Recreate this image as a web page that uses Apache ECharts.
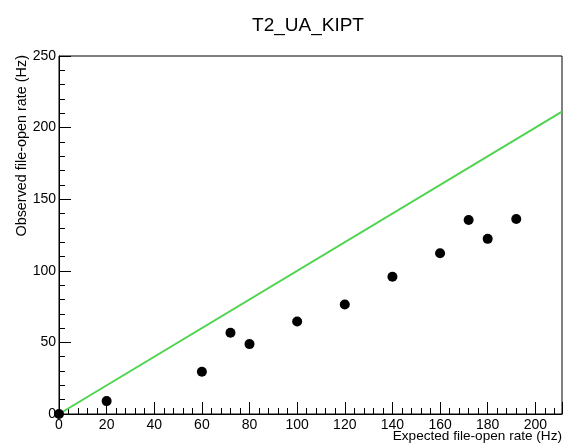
<!DOCTYPE html>
<html>
<head>
<meta charset="utf-8">
<script src="https://cdn.jsdelivr.net/npm/echarts@6/dist/echarts.min.js"></script>
<style>
html,body{margin:0;padding:0;background:#fff;}
#c{width:572px;height:447px;}
</style>
</head>
<body>
<div id="c"></div>
<script>
const titleText = "T2_UA_KIPT";
const xTitle = "Expected file-open rate (Hz)";
const yTitle = "Observed file-open rate (Hz)";
const expected = [0, 20, 60, 72, 80, 100, 120, 140, 160, 172, 180, 192];
const observed = [0, 9, 29.5, 56.8, 48.8, 64.6, 76.5, 95.8, 112.3, 135.5, 122.3, 136.2];
const refX = [0, 211.2];
const refY = [0, 211.2];
const xMin = 0, xMax = 211.2, xStep = 20;
const yMin = 0, yMax = 250, yStep = 50;

const FONT = "'Liberation Sans', Arial, Helvetica, sans-serif";
const chart = echarts.init(document.getElementById('c'), null, {renderer: 'canvas'});
chart.setOption({
  backgroundColor: '#ffffff',
  animation: false,
  title: {
    text: titleText, left: 303, top: 11, textAlign: 'center',
    textStyle: {fontFamily: FONT, fontSize: 19, fontWeight: 'normal', color: '#000'}
  },
  grid: {left: 59, right: 10, top: 56, bottom: 33, show: true, borderColor: '#000', borderWidth: 1, backgroundColor: 'transparent'},
  xAxis: {
    type: 'value', min: xMin, max: xMax, interval: xStep,
    axisLine: {show: true, onZero: false, lineStyle: {color: '#000', width: 1}},
    axisTick: {show: true, inside: true, length: 12, lineStyle: {color: '#000'}},
    minorTick: {show: true, splitNumber: 5, length: 6, lineStyle: {color: '#000'}},
    splitLine: {show: false},
    axisLabel: {fontFamily: FONT, fontSize: 14, color: '#000', margin: 4, showMaxLabel: false}
  },
  yAxis: {
    type: 'value', min: yMin, max: yMax, interval: yStep,
    axisLine: {show: true, onZero: false, lineStyle: {color: '#000', width: 1}},
    axisTick: {show: true, inside: true, length: 12, lineStyle: {color: '#000'}},
    minorTick: {show: true, splitNumber: 5, length: 6, lineStyle: {color: '#000'}},
    splitLine: {show: false},
    axisLabel: {fontFamily: FONT, fontSize: 14, color: '#000', margin: 3}
  },
  graphic: [
    {type: 'text', right: 10, top: 429, style: {text: xTitle, font: '13.6px ' + FONT, fill: '#000'}},
    {type: 'text', x: 15, y: 55, rotation: Math.PI / 2,
     style: {text: yTitle, font: '14.4px ' + FONT, fill: '#000', align: 'right', verticalAlign: 'top'}}
  ],
  series: [
    {
      type: 'line', data: refX.map((x, i) => [x, refY[i]]), symbol: 'none',
      lineStyle: {color: '#4fd44f', width: 2}, z: 2, clip: true
    },
    {
      type: 'scatter', data: expected.map((x, i) => [x, observed[i]]),
      symbol: 'circle', symbolSize: 10, itemStyle: {color: '#000', opacity: 1}, z: 3, clip: false
    }
  ]
});
</script>
</body>
</html>
